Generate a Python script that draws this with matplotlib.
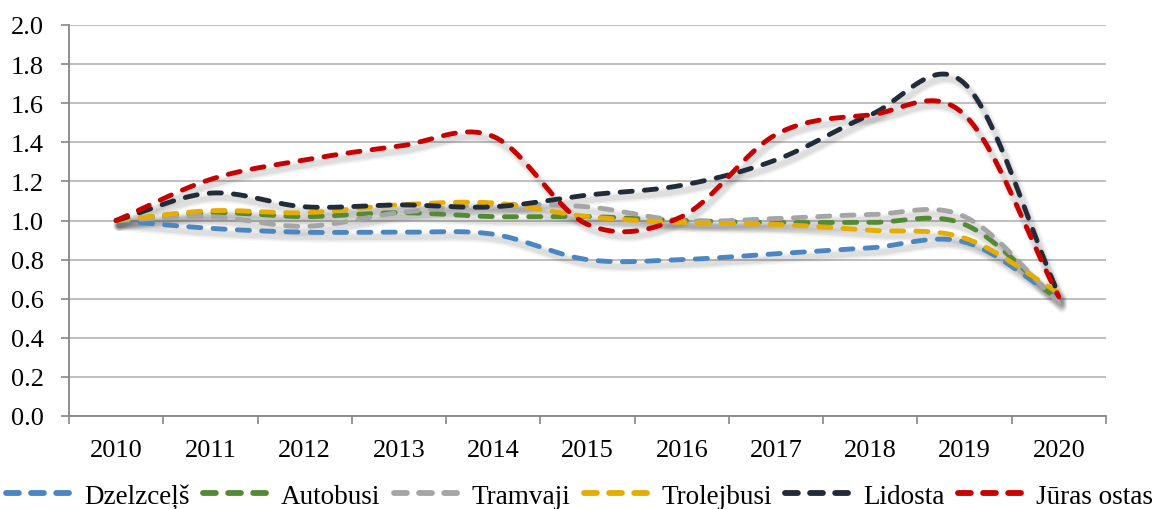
import numpy as np
import matplotlib
matplotlib.use('Agg')
import matplotlib.pyplot as plt
from matplotlib import transforms
from matplotlib.lines import Line2D

years = ['2010', '2011', '2012', '2013', '2014', '2015', '2016', '2017', '2018', '2019', '2020']
dzelzcels = [1.00, 0.96, 0.94, 0.94, 0.93, 0.80, 0.80, 0.83, 0.86, 0.89, 0.60]
autobusi = [1.00, 1.04, 1.02, 1.04, 1.02, 1.02, 1.00, 0.99, 0.99, 0.98, 0.59]
tramvaji = [1.00, 1.02, 0.97, 1.04, 1.08, 1.07, 1.00, 1.01, 1.03, 1.02, 0.58]
trolejbusi = [1.00, 1.05, 1.04, 1.08, 1.09, 1.02, 0.99, 0.98, 0.95, 0.91, 0.63]
lidosta = [1.00, 1.14, 1.07, 1.08, 1.07, 1.13, 1.18, 1.31, 1.54, 1.70, 0.62]
juras_ostas = [1.00, 1.21, 1.31, 1.38, 1.43, 0.98, 1.02, 1.44, 1.54, 1.54, 0.61]

names = ['Dzelzceļš', 'Autobusi', 'Tramvaji', 'Trolejbusi', 'Lidosta', 'Jūras ostas']
series = [dzelzcels, autobusi, tramvaji, trolejbusi, lidosta, juras_ostas]
colors = ['#4A86C1', '#548A34', '#A5A5A5', '#E6AD00', '#222B38', '#C80000']

plt.rcParams['font.family'] = ['Liberation Serif', 'DejaVu Serif']


def smooth(y, n=40):
    y = np.asarray(y, float)
    x = np.arange(len(y), dtype=float)
    m = np.zeros_like(y)
    m[1:-1] = (y[2:] - y[:-2]) / 2.0
    m[0] = (y[1] - y[0])
    m[-1] = (y[-1] - y[-2])
    xs, ys = [], []
    for i in range(len(y) - 1):
        t = np.linspace(0, 1, n, endpoint=(i == len(y) - 2))
        h00 = 2 * t**3 - 3 * t**2 + 1
        h10 = t**3 - 2 * t**2 + t
        h01 = -2 * t**3 + 3 * t**2
        h11 = t**3 - t**2
        ys.append(h00 * y[i] + h10 * m[i] + h01 * y[i + 1] + h11 * m[i + 1])
        xs.append(x[i] + t)
    return np.concatenate(xs), np.concatenate(ys)


fig = plt.figure(figsize=(11.59, 5.10), dpi=100)
ax = fig.add_axes([69 / 1159, 1 - 417 / 510, (1106 - 69) / 1159, (417 - 26) / 510])

lw = 3.5
dash = (2.5, 2.5)
shadow_tr = transforms.offset_copy(ax.transData, fig=fig, x=3, y=-5, units='dots')

curves = [smooth(s) for s in series]
for (xs, ys) in curves:
    for w, a in [(8, 0.035), (6, 0.05), (4, 0.07)]:
        ax.plot(xs, ys, color='#303030', lw=w, alpha=a, transform=shadow_tr,
                solid_capstyle='round', zorder=2)

for (xs, ys), c, name in zip(curves, colors, names):
    ax.plot(xs, ys, color=c, lw=lw, linestyle=(0, dash), dash_capstyle='round',
            zorder=3, label=name)

ax.set_xlim(-0.5, 10.5)
ax.set_ylim(0, 2.0)
ax.set_yticks(np.arange(0, 2.01, 0.2))
ax.set_yticklabels([f'{v:.1f}' for v in np.arange(0, 2.01, 0.2)])
ax.set_xticks(np.arange(-0.5, 10.51, 1.0))
ax.set_xticklabels([])
ax.set_xticks(np.arange(0, 11), minor=True)
ax.set_xticklabels(years, minor=True)
ax.tick_params(axis='x', which='minor', length=0, pad=16.5, labelsize=19)
ax.tick_params(axis='x', which='major', length=6, width=1.2, color='#868686', direction='out')
ax.tick_params(axis='y', length=6, width=1.2, color='#868686', labelsize=19, pad=12)
ax.grid(axis='y', color='#BFBFBF', lw=1.4, zorder=0)
ax.set_axisbelow(True)
for s in ['top', 'right']:
    ax.spines[s].set_visible(False)
for s in ['left', 'bottom']:
    ax.spines[s].set_color('#868686')
    ax.spines[s].set_linewidth(1.3)

handles = [Line2D([], [], color=c, lw=4.2, linestyle=(0, (2.2, 2.1)), dash_capstyle='round')
           for c in colors]
fig.legend(handles, names, loc='center', bbox_to_anchor=(0.5, 1 - 497 / 510), ncol=6,
           frameon=False, fontsize=19.5, handlelength=2.35, handletextpad=0.52,
           columnspacing=0.5, borderaxespad=0, borderpad=0)

fig.savefig('out.png', dpi=100)
